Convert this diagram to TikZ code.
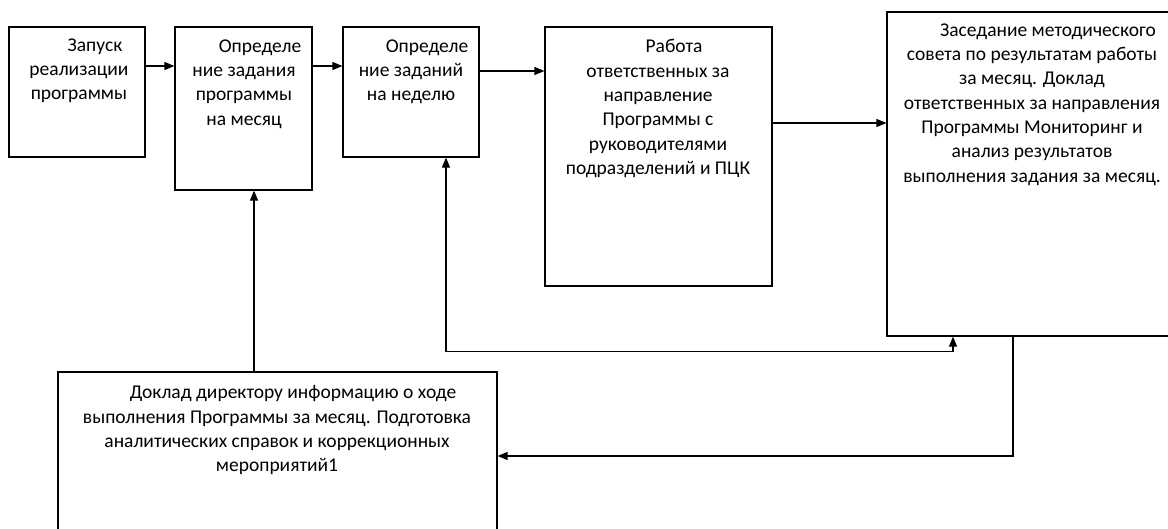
\documentclass[tikz,border=0pt]{standalone}
\usepackage{fontspec}
\setmainfont{Carlito}
\usetikzlibrary{arrows.meta}
\newcommand\blk{\fontsize{19.5}{24.3}\selectfont}
\newcommand\ind{\hspace*{32pt}}
\begin{document}
\begin{tikzpicture}[x=1pt, y=-1pt, line width=1.2pt,
    box/.style={draw, inner sep=0pt},
    txt/.style={align=center, font=\blk, inner sep=0pt, anchor=north},
    arr/.style={-{Triangle[length=10pt,width=8pt]}},
    arrs/.style={{Triangle[length=10pt,width=8pt]}-{Triangle[length=10pt,width=8pt]}}]
  \useasboundingbox (0,0) rectangle (1168,528);
  \clip (0,0) rectangle (1168,528);
  \node[box, minimum width=136pt, minimum height=130pt] (zapusk) at (77,92) {};
  \node[box, minimum width=137pt, minimum height=163pt] (mesyac) at (243.5,108.5) {};
  \node[box, minimum width=136pt, minimum height=130pt] (nedelya) at (411,92) {};
  \node[box, minimum width=227pt, minimum height=259pt] (rabota) at (658.5,156.5) {};
  \node[box, minimum width=290pt, minimum height=324pt] (sovet) at (1032,174) {};
  \node[box, minimum width=439pt, minimum height=168pt] (doklad) at (277.5,456) {};
  \node[txt] (zapuskT) at (79,38) {\ind Запуск\\реализации\\программы};
  \node[txt] (mesyacT) at (244,39) {\ind Определе\\ние задания\\программы\\на месяц};
  \node[txt] (nedelyaT) at (411,39) {\ind Определе\\ние заданий\\на неделю};
  \node[txt] (rabotaT) at (658,39) {\ind Работа\\ответственных за\\направление\\Программы с\\руководителями\\подразделений и ПЦК};
  \node[txt] (sovetT) at (1032,23) {\ind Заседание методического\\совета по результатам работы\\за месяц. Доклад\\ответственных за направления\\Программы Мониторинг и\\анализ результатов\\выполнения задания за месяц.};
  \node[txt] (dokladT) at (277,385) {\ind Доклад директору информацию о ходе\\выполнения Программы за месяц. Подготовка\\аналитических справок и коррекционных\\мероприятий1};
  \draw[arr] ([yshift=26pt]zapusk.east) -- ([yshift=26pt]zapusk.east -| mesyac.west);
  \draw[arr] ([yshift=42.5pt]mesyac.east) -- ([yshift=42.5pt]mesyac.east -| nedelya.west);
  \draw[arr] ([yshift=21pt]nedelya.east) -- ([yshift=21pt]nedelya.east -| rabota.west);
  \draw[arr] ([yshift=33.5pt]rabota.east) -- ([yshift=33.5pt]rabota.east -| sovet.west);
  \draw[arr] ([xshift=-23.5pt]doklad.north) -- ([xshift=-23.5pt]doklad.north |- mesyac.south);
  \draw[arrs] ([xshift=35pt]nedelya.south) |- ([xshift=-79pt,yshift=-15pt]sovet.south) -- ([xshift=-79pt]sovet.south);
  \draw[arr] ([xshift=-19pt]sovet.south) |- (doklad.east);
\end{tikzpicture}
\end{document}
